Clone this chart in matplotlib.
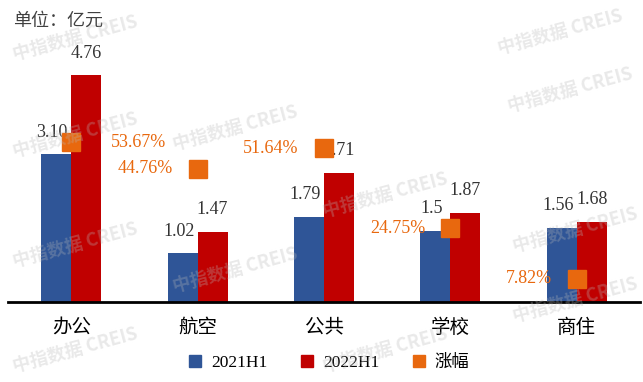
import matplotlib
matplotlib.use("Agg")
import matplotlib.pyplot as plt
from matplotlib.lines import Line2D

plt.rcParams['font.family'] = ['Liberation Serif', 'Noto Sans CJK SC', 'DejaVu Sans']

categories = ['办公', '航空', '公共', '学校', '商住']
h1_2021 = [3.10, 1.02, 1.79, 1.5, 1.56]
h1_2022 = [4.76, 1.47, 2.71, 1.87, 1.68]
growth = [53.67, 44.76, 51.64, 24.75, 7.82]
label_2021 = ['3.10', '1.02', '1.79', '1.5', '1.56']
label_2022 = ['4.76', '1.47', '2.71', '1.87', '1.68']
series_names = ['2021H1', '2022H1', '涨幅']

c_blue = '#2F5597'
c_red = '#C00000'
c_orange = '#E8680E'

fig = plt.figure(figsize=(6.43, 3.82), dpi=100)
ax = fig.add_axes([8/643, 80/382, 632/643, 286/382])
ax2 = ax.twinx()

x = list(range(len(categories)))
w = 0.237
xb = [i - w/2 for i in x]
xr = [i + w/2 for i in x]
ax.bar(xb, h1_2021, width=w, color=c_blue, zorder=2)
ax.bar(xr, h1_2022, width=w, color=c_red, zorder=2)

ax.set_xlim(-0.5, 4.5)
ax.set_ylim(0, 6.0)
ax2.set_ylim(0, 96)

for xi, v, s in zip(xb, h1_2021, label_2021):
    ax.annotate(s, (xi, v), xytext=(-4, 22), textcoords='offset pixels',
                ha='center', va='center', fontsize=13, color='#333333', zorder=5)
for xi, v, s in zip(xr, h1_2022, label_2022):
    ax.annotate(s, (xi, v), xytext=(0, 22), textcoords='offset pixels',
                ha='center', va='center', fontsize=13, color='#333333', zorder=5)

ax2.plot(x, growth, linestyle='none', marker='s', markersize=12.5,
         color=c_orange, zorder=4)
pct_offsets = [(67, 0), (-52, 0), (-53, 0), (-53, 0), (-48, 0)]
for xi, g, off in zip(x, growth, pct_offsets):
    ax2.annotate(f'{g:.2f}%', (xi, g), xytext=off, textcoords='offset pixels',
                 ha='center', va='center', fontsize=13, color=c_orange, zorder=5)

for sp in ['top', 'right', 'left']:
    ax.spines[sp].set_visible(False)
    ax2.spines[sp].set_visible(False)
ax2.spines['bottom'].set_visible(False)
ax.spines['bottom'].set_linewidth(2)
ax.spines['bottom'].set_color('black')
ax.spines['bottom'].set_zorder(6)
ax.set_yticks([])
ax2.set_yticks([])
ax.set_xticks(x)
ax.set_xticklabels(categories, fontsize=14)
ax.tick_params(axis='x', length=0, pad=12)

fig.text(13/643, 1 - 21/382, '单位：亿元', fontsize=13, ha='left', va='center', color='#404040')

handles = [Line2D([], [], linestyle='none', marker='s', markersize=9, color=c)
           for c in (c_blue, c_red, c_orange)]
fig.legend(handles, series_names, loc='center', bbox_to_anchor=(329/643, 1 - 363/382),
           ncol=3, frameon=False, fontsize=12.5, handlelength=0.8, handletextpad=0.5,
           columnspacing=1.9)

# watermarks
wm_pos = [(75, 38), (560, 32), (570, 90), (75, 135), (235, 128), (75, 245),
          (235, 270), (385, 195), (575, 230), (385, 350), (75, 350), (575, 300)]
for px, py in wm_pos:
    fig.text(px/643, 1 - py/382, '中指数据 CREIS', fontsize=13, fontweight='bold',
             color='#b8b8b8', alpha=0.3, rotation=15, ha='center', va='center',
             family=['Noto Sans CJK SC', 'DejaVu Sans'], zorder=10)

fig.savefig('out.png', dpi=100)
